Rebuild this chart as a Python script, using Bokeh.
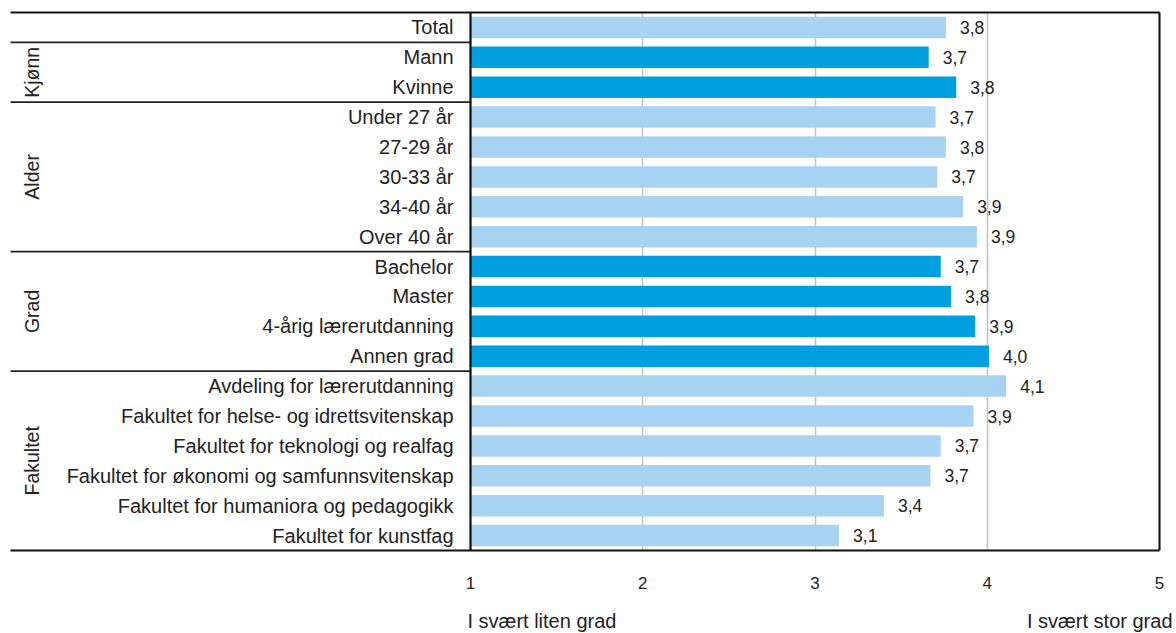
import numpy as np
from bokeh.plotting import figure
from bokeh.models import ColumnDataSource, Range1d, FixedTicker
from bokeh.core.properties import value
from bokeh.embed import file_html
from bokeh.resources import INLINE

# ---------------- data ----------------
categories = [
    "Total",
    "Mann", "Kvinne",
    "Under 27 år", "27-29 år", "30-33 år", "34-40 år", "Over 40 år",
    "Bachelor", "Master", "4-årig lærerutdanning", "Annen grad",
    "Avdeling for lærerutdanning",
    "Fakultet for helse- og idrettsvitenskap",
    "Fakultet for teknologi og realfag",
    "Fakultet for økonomi og samfunnsvitenskap",
    "Fakultet for humaniora og pedagogikk",
    "Fakultet for kunstfag",
]
scores = [3.76, 3.66, 3.82, 3.70, 3.76, 3.71, 3.86, 3.94,
          3.73, 3.79, 3.93, 4.01, 4.11, 3.92, 3.73, 3.67, 3.40, 3.14]
groups = ["", "Kjønn", "Alder", "Grad", "Fakultet"]
group_sizes = [1, 2, 5, 4, 6]
x_ticks = [1, 2, 3, 4, 5]
scale_low = "I svært liten grad"
scale_high = "I svært stor grad"

# ---------------- style ----------------
LIGHT = "#A7D3F3"
DARK = "#009FE0"
TXT = "#222222"
FONT = "Liberation Sans"
group_colors = [LIGHT, DARK, LIGHT, DARK, LIGHT]

W, H = 1176, 633
TABLE_L, TABLE_T, TABLE_R = 10, 12, 1159   # pixel layout of the table box
ROWS_BOTTOM = 550
AXIS_X = 470

n = len(categories)
row_y = [i + 0.5 for i in range(n)]
row_color = []
for c, s in zip(group_colors, group_sizes):
    row_color += [c] * s
val_labels = [f"{v:.1f}".replace(".", ",") for v in scores]

bounds = list(np.cumsum(group_sizes))
x_lo, x_hi = x_ticks[0], x_ticks[-1]
px_per_unit = (TABLE_R - AXIS_X) / (x_hi - x_lo)
x_left = x_lo - (AXIS_X - TABLE_L) / px_per_unit      # left end of rules
row_px = (ROWS_BOTTOM - TABLE_T) / n

x_range = Range1d(x_lo - AXIS_X / px_per_unit, x_hi + (W - TABLE_R) / px_per_unit)
y_range = Range1d(n + (H - ROWS_BOTTOM) / row_px, -TABLE_T / row_px)

p = figure(width=W, height=H, x_range=x_range, y_range=y_range,
           output_backend="svg", toolbar_location=None,
           y_axis_location=None,
           min_border_left=0, min_border_right=0,
           min_border_top=0, min_border_bottom=0)
p.outline_line_color = None
p.background_fill_color = "white"
p.border_fill_color = "white"

src = ColumnDataSource(dict(y=row_y, score=scores, cat=categories,
                            lab=val_labels, color=row_color))

p.hbar(y="y", left=x_lo, right="score", height=0.72,
       fill_color="color", line_color=None, source=src)

p.text(x=x_lo, y="y", text="cat", x_offset=-17,
       text_align="right", text_baseline="middle",
       text_font=value(FONT), text_font_size="20px",
       text_color=TXT, source=src)

p.text(x="score", y="y", text="lab", x_offset=14,
       text_align="left", text_baseline="middle",
       text_font=value(FONT), text_font_size="17.5px",
       text_color=TXT, source=src)

# separators in label area
sep = bounds[:-1]
p.segment(x0=[x_left] * len(sep), y0=sep, x1=[x_lo] * len(sep), y1=sep,
          line_color="#222222", line_width=1.6)
# top / bottom rules
p.segment(x0=[x_left, x_left], y0=[0, n], x1=[x_hi, x_hi], y1=[0, n],
          line_color="#111111", line_width=2)
# right border
p.segment(x0=[x_hi], y0=[0], x1=[x_hi], y1=[n],
          line_color="#111111", line_width=2)
# value axis line
p.segment(x0=[x_lo], y0=[0], x1=[x_lo], y1=[n],
          line_color="#111111", line_width=2.2)

# group labels (rotated)
g_names, g_centers = [], []
start = 0
for g, s in zip(groups, group_sizes):
    if g:
        g_names.append(g)
        g_centers.append(start + s / 2)
    start += s
p.text(x=[x_left] * len(g_names), y=g_centers, text=g_names, x_offset=21,
       angle=np.pi / 2, text_align="center", text_baseline="middle",
       text_font=value(FONT), text_font_size="19.5px", text_color=TXT)

# value axis (tick labels only), fixed at the bottom of the rows
ax = p.xaxis[0]
ax.ticker = FixedTicker(ticks=x_ticks)
ax.fixed_location = n
ax.axis_line_color = None
ax.major_tick_line_color = None
ax.minor_tick_line_color = None
ax.major_label_standoff = 20
ax.major_label_text_font = FONT
ax.major_label_text_font_size = "17px"
ax.major_label_text_color = TXT

for g in p.xgrid:
    g.grid_line_color = "#C4C4C4"
    g.grid_line_width = 1.6
    g.cross_bounds = (0, n)
for g in p.ygrid:
    g.visible = False

# scale end labels
p.text(x=[x_lo, x_hi], y=[n, n], text=[scale_low, scale_high],
       x_offset=[-3, 13], y_offset=70,
       text_align=["left", "right"], text_baseline="alphabetic",
       text_font=value(FONT), text_font_size="20px", text_color=TXT)

open("out.html", "w").write(file_html(p, INLINE))
